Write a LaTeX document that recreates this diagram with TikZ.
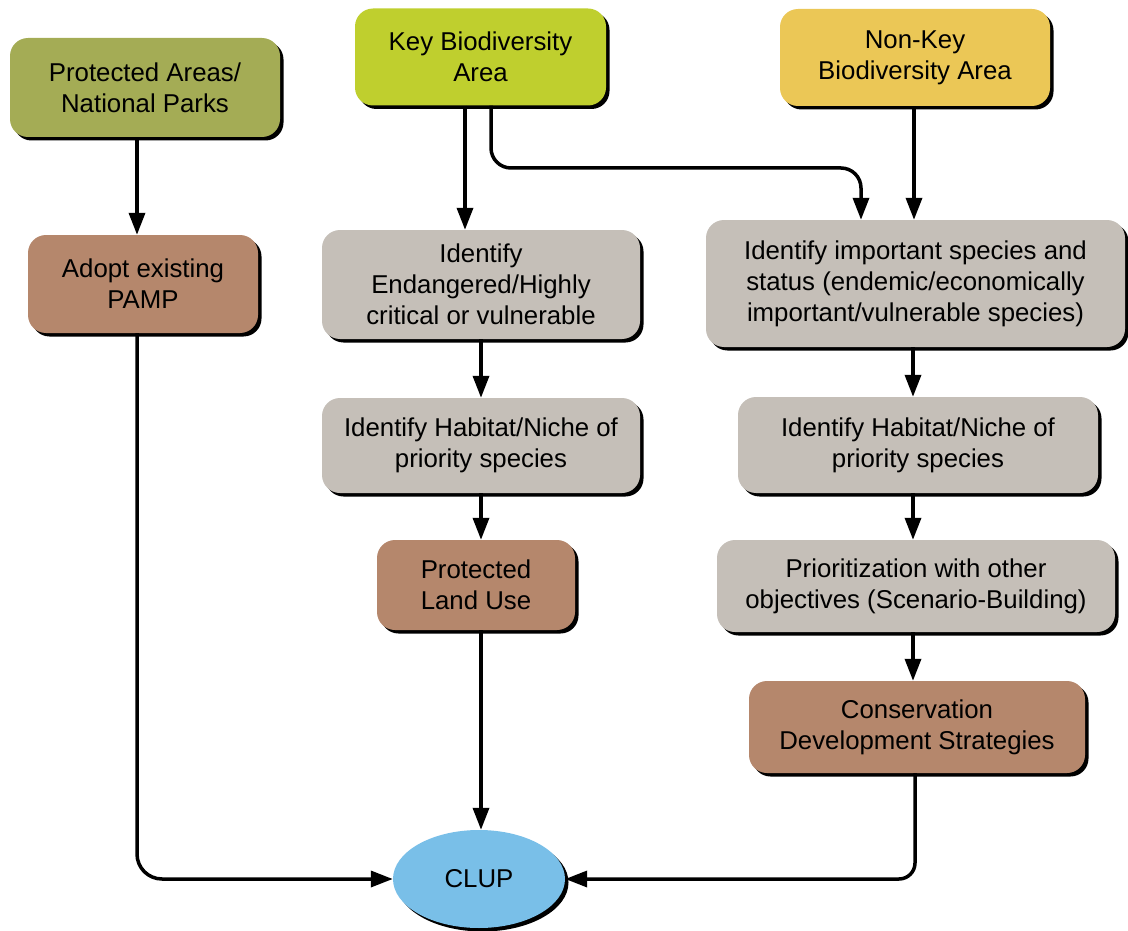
\documentclass[tikz,border=0pt]{standalone}
\usepackage{fontspec}
\setmainfont{Liberation Sans}
\usetikzlibrary{shapes.geometric,shadows,arrows.meta}
\definecolor{paC}{HTML}{A4AC55}
\definecolor{kbaC}{HTML}{BFCF2E}
\definecolor{nkbaC}{HTML}{EBC756}
\definecolor{brC}{HTML}{B5876C}
\definecolor{grC}{HTML}{C5BFB8}
\definecolor{clC}{HTML}{79BFE8}
\begin{document}
\begin{tikzpicture}[x=1pt,y=-1pt,
  box/.style={rounded corners=18pt, inner sep=0pt, align=center,
    font=\fontsize{25.8pt}{31pt}\selectfont,
    drop shadow={shadow xshift=3.5pt, shadow yshift=-3.5pt, fill=black, opacity=1}},
  arr/.style={line width=3.5pt, -{Triangle[length=22pt,width=16pt]}}]
\useasboundingbox (0,0) rectangle (1128,931);
\node[box, fill=paC, minimum width=270pt, minimum height=99pt] (pa) at (145,87.5) {Protected Areas/\\National Parks};
\node[box, fill=kbaC, minimum width=251pt, minimum height=97pt] (kba) at (480.5,57) {Key Biodiversity\\Area};
\node[box, fill=nkbaC, minimum width=270pt, minimum height=97pt] (nkba) at (915,57.5) {Non-Key\\Biodiversity Area};
\node[box, fill=brC, minimum width=230pt, minimum height=98pt] (pamp) at (143,284) {Adopt existing\\PAMP};
\node[box, fill=grC, minimum width=318pt, minimum height=109pt] (endg) at (481,284.5) {Identify\\Endangered/Highly\\critical or vulnerable};
\node[box, fill=grC, minimum width=419pt, minimum height=127pt] (imp) at (915.5,283.5) {Identify important species and\\status (endemic/economically\\important/vulnerable species)};
\node[box, fill=grC, minimum width=318pt, minimum height=95pt] (hab1) at (481,445.5) {Identify Habitat/Niche of\\priority species};
\node[box, fill=grC, minimum width=360pt, minimum height=96pt] (hab2) at (918,445) {Identify Habitat/Niche of\\priority species};
\node[box, fill=brC, minimum width=198pt, minimum height=90pt] (plu) at (476,585) {Protected\\Land Use};
\node[box, fill=grC, minimum width=398pt, minimum height=92pt] (prio) at (916,586) {Prioritization with other\\objectives (Scenario-Building)};
\node[box, fill=brC, minimum width=336pt, minimum height=92pt] (cons) at (917,727) {Conservation\\Development Strategies};
\node[ellipse, inner sep=0pt, fill=clC, minimum width=172pt, minimum height=98pt,
  font=\fontsize{25.8pt}{31pt}\selectfont,
  drop shadow={shadow xshift=3.5pt, shadow yshift=-3.5pt, fill=black, opacity=1}] (clup) at (479,879) {CLUP};
\coordinate (j) at (861,168);
% connectors
\draw[arr] ([xshift=-8pt]pa.south) -- ([xshift=-8pt]pa.south |- pamp.north);
\draw[arr] ([xshift=-15.5pt]kba.south) -- ([xshift=-15.5pt]kba.south |- endg.north);
\draw[arr, rounded corners=20pt] ([xshift=10.5pt]kba.south) |- (j) -- (j |- imp.north);
\draw[arr] ([xshift=-1pt]nkba.south) -- ([xshift=-1pt]nkba.south |- imp.north);
\draw[arr] (endg.south) -- (endg.south |- hab1.north);
\draw[arr] (hab1.south) -- (hab1.south |- plu.north);
\draw[arr] (plu.south -| clup.north) ++(2pt,0) -- ([xshift=2pt]clup.north);
\draw[arr] ([xshift=-2.5pt]imp.south) -- ([xshift=-2.5pt]imp.south |- hab2.north);
\draw[arr] ([xshift=-5pt]hab2.south) -- ([xshift=-5pt]hab2.south |- prio.north);
\draw[arr] ([xshift=-3pt]prio.south) -- ([xshift=-3pt]prio.south |- cons.north);
\draw[arr, rounded corners=25pt] ([xshift=-6pt]pamp.south) |- (clup.west);
\draw[arr, rounded corners=16pt] ([xshift=-2pt]cons.south) |- (clup.east);
\end{tikzpicture}
\end{document}
